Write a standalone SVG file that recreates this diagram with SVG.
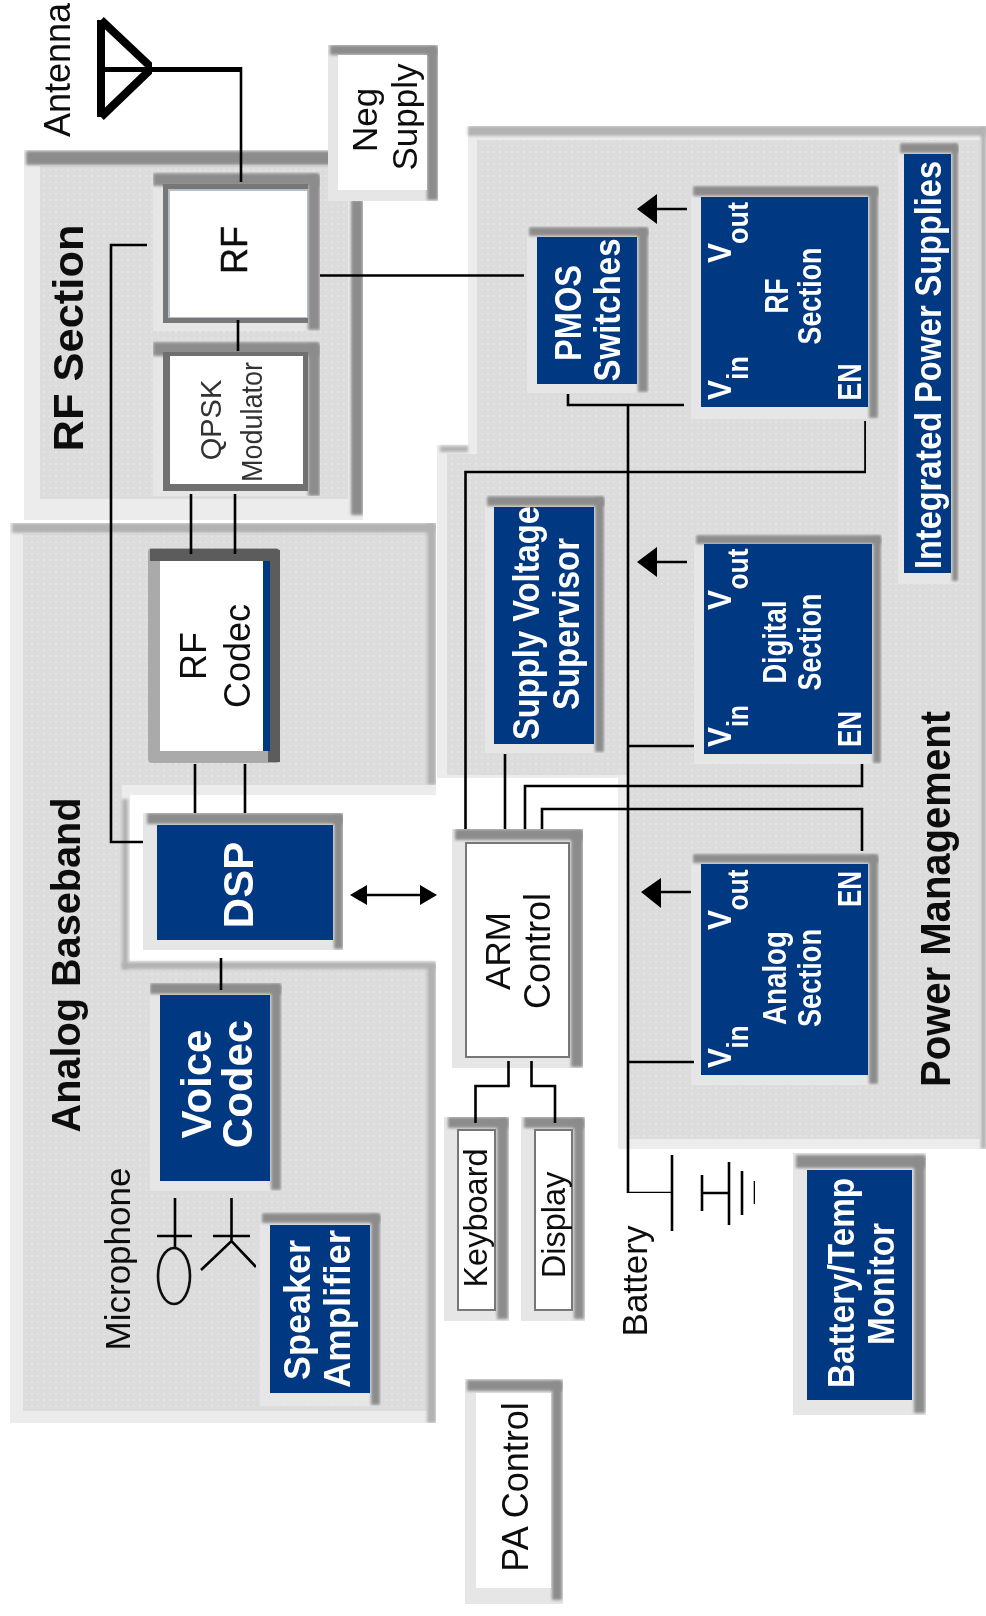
<svg xmlns="http://www.w3.org/2000/svg" width="986" height="1616" viewBox="0 0 986 1616">
<style>
text{font-family:"Liberation Sans",Arial,sans-serif;text-anchor:middle}
svg>g{filter:url(#photo)}
.k{fill:#111}
.w{fill:#fff;font-weight:bold}
.b{font-weight:bold}
.outer{fill:#e6e6e6}
.band{fill:#8c8c8c;filter:url(#soft)}
.lband{fill:#b2b2b2;filter:url(#soft)}
.blue{fill:#003782}
.white{fill:#fff}
.edge{fill:#fff;stroke:#777;stroke-width:2}
.wire{fill:none;stroke:#000;stroke-width:2.6}
.thick{fill:none;stroke:#000;stroke-width:8}
.head{fill:#000}
.margin{fill:#ececec}
.inner{fill:url(#dots)}
</style>
<defs>
<filter id="soft" x="-30%" y="-30%" width="160%" height="160%"><feGaussianBlur stdDeviation="1.400"/></filter>
<filter id="photo" x="0" y="0" width="100%" height="100%"><feGaussianBlur stdDeviation="0.600"/></filter>
<pattern id="dots" width="6" height="6" patternUnits="userSpaceOnUse"><rect width="6" height="6" fill="#dcdcdc"/><rect x="1" y="1" width="2" height="2" fill="#e3e3e3"/></pattern>
</defs>
<rect width="986" height="1616" fill="#fff"/>

<g id="panel-rf">
<rect class="margin" x="24" y="150" width="339" height="370"/>
<rect class="inner" x="40" y="166" width="308" height="333"/>
<rect class="band" x="26" y="151" width="314" height="14"/>
<rect class="band" x="351" y="200" width="12" height="315"/>
</g>
<g id="panel-analog">
<rect class="margin" x="10" y="523" width="426" height="900"/>
<rect class="inner" x="23" y="534" width="404" height="877"/>
<rect class="lband" x="12" y="523" width="423" height="10"/>
<rect class="lband" x="427" y="523" width="9" height="262"/>
<rect class="lband" x="427" y="962" width="9" height="461"/>
<rect class="margin" x="122" y="785" width="314" height="180"/>
<rect x="130" y="795" width="306" height="166" fill="#fff"/>
<rect class="lband" x="122" y="799" width="6" height="170"/>
<rect class="lband" x="122" y="962" width="314" height="7"/>
</g>
<g id="panel-power">
<path class="margin" d="M468,126H986V1149H618V778H437V445H468Z"/>
<path class="inner" d="M477,140H980V1139H628V775H447V454H477Z"/>
<rect class="lband" x="468" y="126" width="518" height="10"/>
<rect class="lband" x="440" y="446" width="28" height="6"/>
<rect class="lband" x="981" y="126" width="5" height="1023"/>
</g>

<g id="antenna">
<path class="thick" d="M101,20V117M101,20L152,68L101,117"/>
<text class="k" font-size="36" transform="translate(70,70) rotate(-90)">Antenna</text>
</g>
<g id="microphone">
<path class="wire" d="M175,1198V1248M157,1236H192"/>
<ellipse cx="174" cy="1276" rx="16" ry="28" fill="none" stroke="#111" stroke-width="2.600"/>
<path class="wire" d="M231.500,1198V1241M213,1236H250M201,1270L231.500,1241L256,1267"/>
<text class="k" font-size="35" transform="translate(130,1259) rotate(-90)">Microphone</text>
</g>
<g id="battery">
<path class="wire" d="M672,1155V1231M703,1193H729M702,1175V1211M729,1162V1225M742,1171V1215M755,1181V1204"/>
<text class="k" font-size="35" transform="translate(647,1281) rotate(-90)">Battery</text>
</g>

<g id="label-rf-section"><text class="k b" font-size="42" textLength="227" lengthAdjust="spacingAndGlyphs" transform="translate(83,338) rotate(-90)">RF Section</text></g>
<g id="label-analog-baseband"><text class="k b" font-size="41" textLength="335" lengthAdjust="spacingAndGlyphs" transform="translate(80,965) rotate(-90)">Analog Baseband</text></g>
<g id="label-power-management"><text class="k b" font-size="42" textLength="376" lengthAdjust="spacingAndGlyphs" transform="translate(950,899) rotate(-90)">Power Management</text></g>

<g id="neg-supply">
<rect class="outer" x="328" y="45" width="110" height="156"/>
<rect class="band" x="330" y="45" width="107" height="10"/>
<rect class="band" x="427" y="47" width="11" height="153"/>
<rect class="white" x="338" y="55" width="89" height="135"/>
<text class="k" font-size="35" transform="translate(377,120) rotate(-90)">Neg</text>
<text class="k" font-size="35" transform="translate(417,117) rotate(-90)">Supply</text>
</g>
<g id="rf">
<rect class="outer" x="153" y="172" width="167" height="159"/>
<rect class="band" x="153" y="173" width="166" height="13"/>
<rect class="band" x="308" y="175" width="12" height="155"/>
<rect fill="#777" x="163" y="184" width="145" height="139"/>
<rect x="168" y="189" width="140" height="129" fill="#b4bfca"/>
<rect class="white" x="170" y="191" width="137" height="126"/>
<text class="k" font-size="36" stroke="#111" stroke-width=".5" transform="translate(247,250) rotate(-90)">RF</text>
</g>
<g id="qpsk-modulator">
<rect class="outer" x="153" y="341" width="167" height="155"/>
<rect class="band" x="153" y="342" width="166" height="14"/>
<rect class="band" x="308" y="344" width="12" height="152"/>
<rect fill="#6f6f6f" x="163" y="352" width="145" height="139"/>
<rect class="white" x="170" y="356" width="133" height="128"/>
<text fill="#333" font-size="29" transform="translate(221,420) rotate(-90)">QPSK</text>
<text fill="#333" font-size="29" textLength="120" lengthAdjust="spacingAndGlyphs" transform="translate(262,422) rotate(-90)">Modulator</text>
</g>
<g id="rf-codec">
<rect fill="#aaa" x="148" y="548" width="132" height="215" rx="4"/>
<rect fill="#5c5c5c" x="150" y="549" width="128" height="12"/>
<rect fill="#5c5c5c" x="268" y="550" width="12" height="212"/>
<rect class="white" x="160" y="561" width="103" height="190"/>
<rect class="blue" x="263" y="561" width="7" height="190"/>
<text class="k" font-size="36" transform="translate(206,656) rotate(-90)">RF</text>
<text class="k" font-size="36" transform="translate(250,656) rotate(-90)">Codec</text>
</g>
<g id="dsp">
<rect class="outer" x="143" y="813" width="200" height="137"/>
<rect class="band" x="147" y="813" width="196" height="11"/>
<rect class="band" x="334" y="815" width="9" height="134"/>
<rect class="blue" x="157" y="825" width="176" height="115"/>
<text class="w" font-size="42" transform="translate(253,885) rotate(-90)">DSP</text>
</g>
<g id="voice-codec">
<rect class="outer" x="150" y="983" width="132" height="208"/>
<rect class="band" x="150" y="983" width="131" height="11"/>
<rect class="band" x="271" y="985" width="10" height="205"/>
<rect class="blue" x="160" y="995" width="110" height="186"/>
<text class="w" font-size="42" transform="translate(211,1084) rotate(-90)">Voice</text>
<text class="w" font-size="42" transform="translate(252,1084) rotate(-90)">Codec</text>
</g>
<g id="speaker-amplifier">
<rect class="outer" x="260" y="1212" width="121" height="194"/>
<rect class="band" x="262" y="1213" width="118" height="10"/>
<rect class="band" x="371" y="1215" width="9" height="190"/>
<rect class="blue" x="270" y="1225" width="100" height="168"/>
<text class="w" font-size="36" transform="translate(310,1310) rotate(-90)">Speaker</text>
<text class="w" font-size="36" textLength="158" lengthAdjust="spacingAndGlyphs" transform="translate(350,1309) rotate(-90)">Amplifier</text>
</g>
<g id="arm-control">
<rect class="outer" x="452" y="829" width="131" height="239"/>
<rect class="band" x="455" y="829" width="128" height="11"/>
<rect class="band" x="571" y="831" width="12" height="236"/>
<rect class="edge" x="466" y="843" width="103" height="214"/>
<text class="k" font-size="35" transform="translate(510,951) rotate(-90)">ARM</text>
<text class="k" font-size="36" transform="translate(550,951) rotate(-90)">Control</text>
</g>
<g id="keyboard">
<rect class="outer" x="444" y="1117" width="65" height="204"/>
<rect class="band" x="448" y="1117" width="60" height="11"/>
<rect class="band" x="497" y="1119" width="11" height="200"/>
<rect class="edge" x="458" y="1130" width="37" height="180"/>
<text class="k" font-size="32.500" transform="translate(487,1218) rotate(-90)">Keyboard</text>
</g>
<g id="display">
<rect class="outer" x="521" y="1117" width="64" height="204"/>
<rect class="band" x="524" y="1117" width="60" height="11"/>
<rect class="band" x="574" y="1119" width="10" height="200"/>
<rect class="edge" x="535" y="1130" width="37" height="180"/>
<text class="k" font-size="32.500" transform="translate(565,1225) rotate(-90)">Display</text>
</g>
<g id="pa-control">
<rect class="outer" x="465" y="1379" width="98" height="225"/>
<rect class="band" x="467" y="1380" width="95" height="11"/>
<rect class="band" x="552" y="1382" width="10" height="218"/>
<rect class="white" x="476" y="1393" width="75" height="195"/>
<text class="k" font-size="36" transform="translate(528,1487) rotate(-90)">PA Control</text>
</g>
<g id="pmos-switches">
<rect class="outer" x="527" y="226" width="122" height="167"/>
<rect class="band" x="529" y="227" width="119" height="9"/>
<rect class="band" x="638" y="229" width="10" height="163"/>
<rect class="blue" x="537" y="237" width="100" height="147"/>
<text class="w" font-size="36" textLength="96" lengthAdjust="spacingAndGlyphs" transform="translate(581,313) rotate(-90)">PMOS</text>
<text class="w" font-size="36" textLength="143" lengthAdjust="spacingAndGlyphs" transform="translate(620,310) rotate(-90)">Switches</text>
</g>
<g id="supply-voltage-supervisor">
<rect class="outer" x="485" y="495" width="120" height="258"/>
<rect class="band" x="487" y="496" width="117" height="10"/>
<rect class="band" x="595" y="498" width="9" height="254"/>
<rect class="blue" x="494" y="507" width="100" height="237"/>
<text class="w" font-size="36" textLength="234" lengthAdjust="spacingAndGlyphs" transform="translate(539,623) rotate(-90)">Supply Voltage</text>
<text class="w" font-size="36" textLength="172" lengthAdjust="spacingAndGlyphs" transform="translate(579,624) rotate(-90)">Supervisor</text>
</g>
<g id="integrated-power-supplies">
<rect class="outer" x="898" y="142" width="61" height="442"/>
<rect class="band" x="900" y="143" width="58" height="10"/>
<rect class="band" x="952" y="145" width="6" height="436"/>
<rect class="blue" x="904" y="154" width="47" height="419"/>
<text class="w" font-size="36" textLength="408" lengthAdjust="spacingAndGlyphs" transform="translate(941,365) rotate(-90)">Integrated Power Supplies</text>
</g>
<g id="rf-section-supply">
<rect class="outer" x="691" y="185" width="188" height="234"/>
<rect class="band" x="693" y="186" width="185" height="10"/>
<rect class="band" x="869" y="188" width="9" height="230"/>
<rect class="blue" x="701" y="197" width="167" height="210"/>
<text class="w" font-size="34" textLength="20" lengthAdjust="spacingAndGlyphs" transform="translate(731,253) rotate(-90)">V</text>
<text class="w" font-size="30" textLength="42" lengthAdjust="spacingAndGlyphs" transform="translate(748,223) rotate(-90)">out</text>
<text class="w" font-size="34" textLength="20" lengthAdjust="spacingAndGlyphs" transform="translate(731,390) rotate(-90)">V</text>
<text class="w" font-size="30" textLength="24" lengthAdjust="spacingAndGlyphs" transform="translate(748,368) rotate(-90)">in</text>
<text class="w" font-size="33" textLength="37" lengthAdjust="spacingAndGlyphs" transform="translate(861,382) rotate(-90)">EN</text>
<text class="w" font-size="33" textLength="35" lengthAdjust="spacingAndGlyphs" transform="translate(788,296) rotate(-90)">RF</text>
<text class="w" font-size="33" textLength="97" lengthAdjust="spacingAndGlyphs" transform="translate(821,296) rotate(-90)">Section</text>
</g>
<g id="digital-section-supply">
<rect class="outer" x="694" y="534" width="188" height="230"/>
<rect class="band" x="696" y="535" width="185" height="9"/>
<rect class="band" x="873" y="537" width="8" height="226"/>
<rect class="blue" x="704" y="544" width="168" height="210"/>
<text class="w" font-size="34" textLength="20" lengthAdjust="spacingAndGlyphs" transform="translate(731,600) rotate(-90)">V</text>
<text class="w" font-size="30" textLength="41" lengthAdjust="spacingAndGlyphs" transform="translate(748,569) rotate(-90)">out</text>
<text class="w" font-size="34" textLength="20" lengthAdjust="spacingAndGlyphs" transform="translate(731,737) rotate(-90)">V</text>
<text class="w" font-size="30" textLength="22" lengthAdjust="spacingAndGlyphs" transform="translate(748,716) rotate(-90)">in</text>
<text class="w" font-size="33" textLength="36" lengthAdjust="spacingAndGlyphs" transform="translate(861,729) rotate(-90)">EN</text>
<text class="w" font-size="33" textLength="83" lengthAdjust="spacingAndGlyphs" transform="translate(786,642) rotate(-90)">Digital</text>
<text class="w" font-size="33" textLength="97" lengthAdjust="spacingAndGlyphs" transform="translate(821,642) rotate(-90)">Section</text>
</g>
<g id="analog-section-supply">
<rect class="outer" x="691" y="853" width="188" height="232"/>
<rect class="band" x="693" y="854" width="185" height="9"/>
<rect class="band" x="869" y="856" width="9" height="228"/>
<rect class="blue" x="701" y="864" width="167" height="211"/>
<text class="w" font-size="34" textLength="20" lengthAdjust="spacingAndGlyphs" transform="translate(731,920) rotate(-90)">V</text>
<text class="w" font-size="30" textLength="41" lengthAdjust="spacingAndGlyphs" transform="translate(748,890) rotate(-90)">out</text>
<text class="w" font-size="34" textLength="20" lengthAdjust="spacingAndGlyphs" transform="translate(731,1058) rotate(-90)">V</text>
<text class="w" font-size="30" textLength="23" lengthAdjust="spacingAndGlyphs" transform="translate(748,1037) rotate(-90)">in</text>
<text class="w" font-size="33" textLength="36" lengthAdjust="spacingAndGlyphs" transform="translate(861,889) rotate(-90)">EN</text>
<text class="w" font-size="33" textLength="94" lengthAdjust="spacingAndGlyphs" transform="translate(786,978) rotate(-90)">Analog</text>
<text class="w" font-size="33" textLength="98" lengthAdjust="spacingAndGlyphs" transform="translate(821,978) rotate(-90)">Section</text>
</g>
<g id="battery-temp-monitor">
<rect class="outer" x="793" y="1153" width="133" height="262"/>
<rect class="band" x="796" y="1155" width="129" height="13"/>
<rect class="band" x="914" y="1157" width="11" height="256"/>
<rect class="blue" x="807" y="1170" width="105" height="230"/>
<text class="w" font-size="36" textLength="210" lengthAdjust="spacingAndGlyphs" transform="translate(854,1283) rotate(-90)">Battery/Temp</text>
<text class="w" font-size="36" textLength="122" lengthAdjust="spacingAndGlyphs" transform="translate(894,1284) rotate(-90)">Monitor</text>
</g>

<g id="connectors">
<path class="wire" d="M241,67V182"/>
<path class="thick" d="M105,68H242"/>
<path class="wire" d="M147,245H111V842H143"/>
<path class="wire" d="M238,320V351"/>
<path class="wire" d="M320,275.500H524"/>
<path class="wire" d="M191,494V554M235,494V554"/>
<path class="wire" d="M195,764V813M245,764V813"/>
<path class="wire" d="M221,958V990"/>
<path class="wire" d="M358,895H420"/>
<path class="head" d="M350,895L367,885V905ZM437,895L420,885V905Z"/>
<path class="wire" d="M465.500,829V472H865.500V421"/>
<path class="wire" d="M505,829V754"/>
<path class="wire" d="M525,829V786H862V764"/>
<path class="wire" d="M542,829V809H862V851"/>
<path class="wire" d="M568,394V405H684"/>
<path class="wire" d="M628,405V1193H672"/>
<path class="wire" d="M628,746H694M628,1062H694"/>
<path class="wire" d="M508.500,1061V1086H475.500V1123"/>
<path class="wire" d="M531.500,1061V1086H555V1123"/>
<path class="wire" d="M657,209H687M657,562H687M661,892H691"/>
<path class="head" d="M637,209L657,194V224ZM637,562L657,547V577ZM641,892L661,878V908Z"/>
</g>
</svg>
